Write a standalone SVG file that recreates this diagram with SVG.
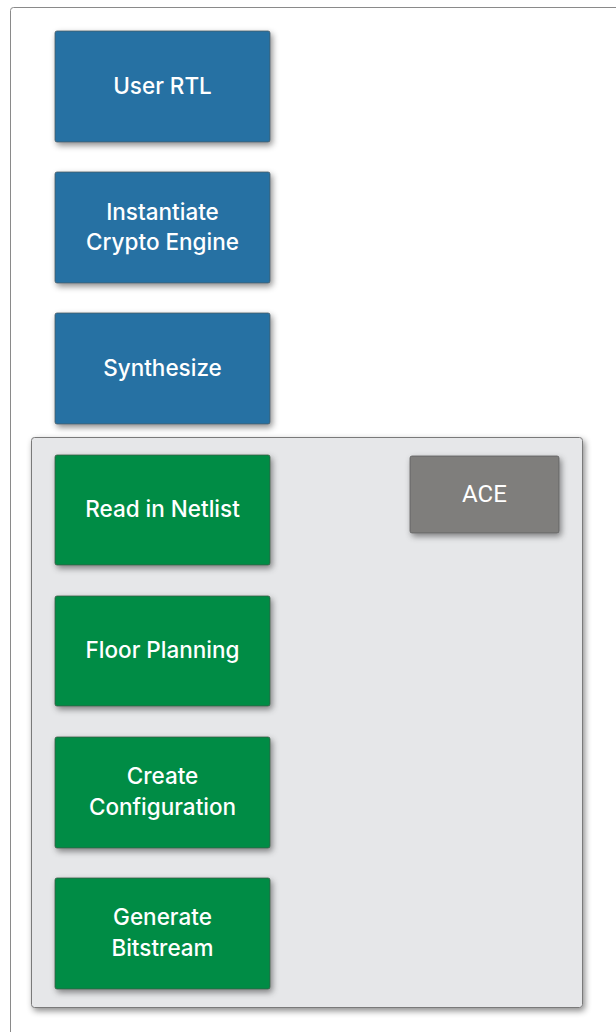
<svg xmlns="http://www.w3.org/2000/svg" width="616" height="1032" viewBox="0 0 616 1032">
<defs>
<filter id="sh" x="-20%" y="-20%" width="140%" height="150%">
<feDropShadow dx="2" dy="3" stdDeviation="3" flood-color="#000" flood-opacity="0.45"/>
</filter>
<style>
.blue{fill:#2571a3;stroke:#4a5a66;stroke-width:0.8;filter:url(#sh)}
.green{fill:#008c44;stroke:#3e5a48;stroke-width:0.8;filter:url(#sh)}
.gray{fill:#7f7e7c;stroke:#5e5e5e;stroke-width:0.8;filter:url(#sh)}
.lbl{font-family:Inter,"Liberation Sans",sans-serif;font-size:22.5px;font-weight:500;fill:#fff;text-anchor:middle}
.ace{font-family:Roboto,"Liberation Sans",sans-serif;font-size:24px;fill:#fff;text-anchor:middle}
</style>
</defs>
<rect width="616" height="1032" fill="#fff"/>
<rect x="10.5" y="7.5" width="620" height="1040" rx="3" fill="#fff" stroke="#8a8a8a" stroke-width="1"/>
<g id="ace-region">
<rect x="31.5" y="437.5" width="551" height="570" rx="3" fill="#e6e7e9" stroke="#7a7a7a" stroke-width="1" filter="url(#sh)"/>
</g>
<g id="user-rtl"><rect class="blue" x="55" y="31" width="215" height="111" rx="2"/><text class="lbl" x="162.5" y="94">User RTL</text></g>
<g id="instantiate"><rect class="blue" x="55" y="172" width="215" height="111" rx="2"/><text class="lbl" x="162.5" y="220">Instantiate</text><text class="lbl" x="162.5" y="250">Crypto Engine</text></g>
<g id="synthesize"><rect class="blue" x="55" y="313" width="215" height="111" rx="2"/><text class="lbl" x="162.5" y="376">Synthesize</text></g>
<g id="read-netlist"><rect class="green" x="55" y="455" width="215" height="110" rx="2"/><text class="lbl" x="162.5" y="517">Read in Netlist</text></g>
<g id="floor-planning"><rect class="green" x="55" y="596" width="215" height="110" rx="2"/><text class="lbl" x="162.5" y="658">Floor Planning</text></g>
<g id="create-config"><rect class="green" x="55" y="737" width="215" height="111" rx="2"/><text class="lbl" x="162.5" y="784">Create</text><text class="lbl" x="162.5" y="815">Configuration</text></g>
<g id="generate-bitstream"><rect class="green" x="55" y="878" width="215" height="111" rx="2"/><text class="lbl" x="162.5" y="925">Generate</text><text class="lbl" x="162.5" y="956">Bitstream</text></g>
<g id="ace"><rect class="gray" x="410" y="456" width="149" height="77" rx="2"/><text class="ace" x="484.5" y="502">ACE</text></g>
<g id="connectors"></g>
</svg>
